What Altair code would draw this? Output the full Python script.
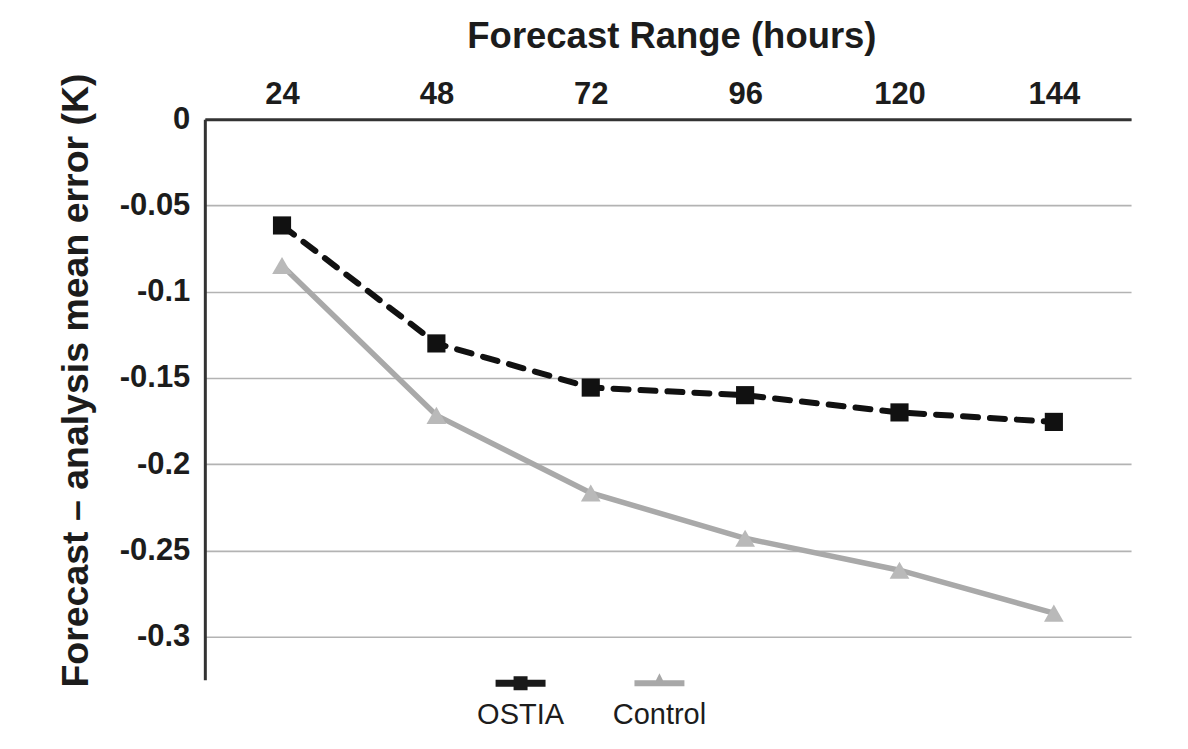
import altair as alt
import pandas as pd

hours = [24, 48, 72, 96, 120, 144]
ostia = [-0.0616, -0.130, -0.1556, -0.160, -0.170, -0.1755]
control = [-0.0848, -0.1717, -0.2167, -0.243, -0.2615, -0.2864]
series_names = ["OSTIA", "Control"]
y_ticks = [0, -0.05, -0.1, -0.15, -0.2, -0.25, -0.3]

df = pd.DataFrame({
    "hours": hours * 2,
    "value": ostia + control,
    "series": ["OSTIA"] * len(hours) + ["Control"] * len(hours),
})

FONT = "Liberation Sans"
DARK = "#1c1c1c"

x = alt.X(
    "hours:O",
    scale=alt.Scale(type="point", padding=0.5),
    axis=alt.Axis(
        orient="top", title="Forecast Range (hours)", labelAngle=0,
        domain=True, domainColor="#333333", domainWidth=3,
        ticks=False, tickSize=0, grid=False,
        labelFont=FONT, labelFontSize=31, labelFontWeight="bold", labelColor=DARK,
        labelPadding=9,
        titleFont=FONT, titleFontSize=36.5, titleFontWeight="bold", titleColor=DARK,
        titleX=467, titleY=-72, titleBaseline="alphabetic", titleAlign="center",
    ),
)
y = alt.Y(
    "value:Q",
    scale=alt.Scale(domain=[-0.325, 0], nice=False, zero=False),
    axis=alt.Axis(
        orient="left", values=y_ticks,
        labelExpr="datum.value == 0 ? '0' : '-' + format(-datum.value, '.2~f')",
        domain=True, domainColor="#333333", domainWidth=3,
        ticks=False, tickSize=0,
        grid=True, gridColor="#b3b3b3", gridWidth=1.6,
        labelFont=FONT, labelFontSize=31, labelFontWeight="bold", labelColor=DARK,
        labelPadding=15,
        title="Forecast – analysis mean error (K)",
        titleFont=FONT, titleFontSize=37.5, titleFontWeight="bold", titleColor=DARK,
        titleAngle=270, titleX=-117, titleY=261, titleBaseline="alphabetic",
        titleAlign="center",
    ),
)

base = alt.Chart(df).encode(x=x, y=y)

ctrl = base.transform_filter(alt.datum.series == "Control")
ost = base.transform_filter(alt.datum.series == "OSTIA")

ctrl_line = ctrl.mark_line(color="#a9a9a9", strokeWidth=5.5)
ctrl_pts = ctrl.mark_point(shape="triangle-up", filled=True, color="#b9b9b9",
                           size=390, opacity=1)
ost_line = ost.mark_line(color="#111111", strokeWidth=6, strokeDash=[15, 12],
                         strokeCap="round")
ost_pts = ost.mark_point(shape="square", filled=True, color="#111111",
                         size=330, opacity=1)

# legend glyphs (line + marker), drawn right of the symbol origin so the
# centred label sits beneath them
path_ostia = ("M0,-0.84L2,-0.84L2,-0.56L0,-0.56Z "
              "M0.72,-0.98L1.28,-0.98L1.28,-0.42L0.72,-0.42Z")
path_ctrl = ("M0,-0.82L2,-0.82L2,-0.58L0,-0.58Z "
             "M1,-1.1L1.26,-0.58L0.74,-0.58Z")

legend = alt.Legend(
    title=None, orient="none", legendX=266, legendY=557, direction="horizontal",
    symbolSize=2500, symbolStrokeWidth=0, symbolOpacity=1,
    labelAlign="center", labelBaseline="top", labelOffset=0,
    labelFont=FONT, labelFontSize=29, labelColor=DARK, labelLimit=0,
    columnPadding=45, padding=0,
)

legend_layer = base.transform_filter("false").mark_point(
    filled=True, opacity=1, size=2500
).encode(
    color=alt.Color("series:N", scale=alt.Scale(domain=series_names,
                                                range=["#1a1a1a", "#a8a8a8"]),
                    legend=legend),
    shape=alt.Shape("series:N", scale=alt.Scale(domain=series_names,
                                                range=[path_ostia, path_ctrl]),
                    legend=legend),
)

chart = alt.layer(ctrl_line, ctrl_pts, ost_line, ost_pts, legend_layer).properties(
    width=927, height=561,
    autosize=alt.AutoSizeParams(type="none"),
    padding={"left": 197, "top": 111, "right": 49, "bottom": 60},
    background="white",
).configure_view(stroke=None)

chart.save("out.html", embed_options={"renderer": "svg", "actions": False})
